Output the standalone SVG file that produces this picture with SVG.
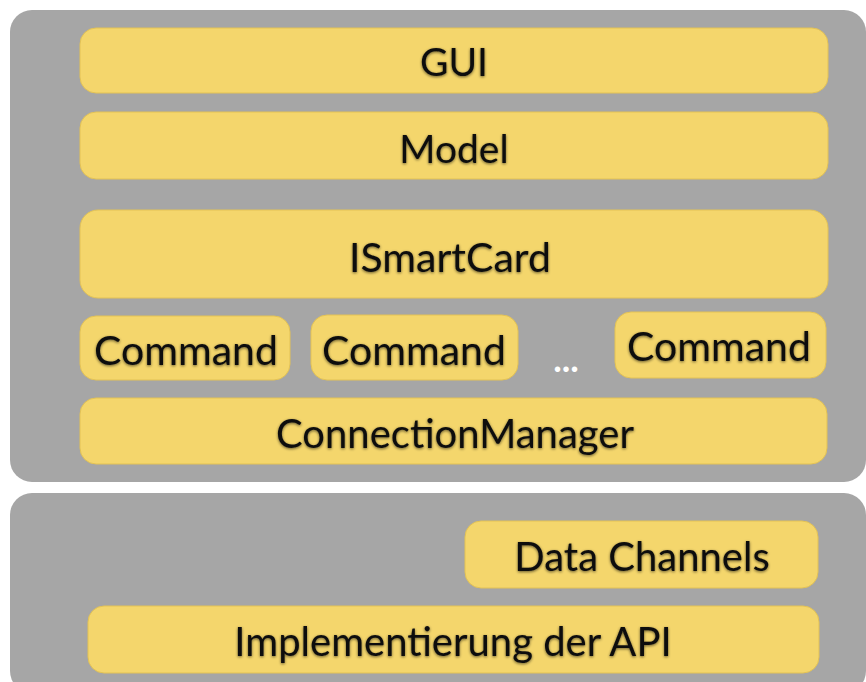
<svg xmlns="http://www.w3.org/2000/svg" width="866" height="682" viewBox="0 0 866 682">
<defs>
<style>
.panel{fill:#a6a6a6;}
.bar{fill:#f4d66c;stroke:#e3c255;stroke-width:1;}
.t{font-family:Lato,"Liberation Sans",sans-serif;fill:#111;text-anchor:middle;dominant-baseline:central;}
</style>
<filter id="sh" x="-10%" y="-30%" width="120%" height="160%">
<feGaussianBlur in="SourceAlpha" stdDeviation="1.5"/>
<feOffset dx="0" dy="1" result="b"/>
<feComponentTransfer><feFuncA type="linear" slope="0.6"/></feComponentTransfer>
<feMerge><feMergeNode/><feMergeNode in="SourceGraphic"/></feMerge>
</filter>
</defs>
<rect width="866" height="682" fill="#ffffff"/>
<rect class="panel" x="10" y="10" width="856" height="472" rx="22"/>
<rect class="panel" x="10" y="493" width="856" height="200" rx="22"/>
<g id="gui"><rect class="bar" x="80" y="28" width="748" height="65" rx="16"/><text class="t" x="454" y="61" font-size="39" filter="url(#sh)">GUI</text></g>
<g id="model"><rect class="bar" x="80" y="112" width="748" height="67" rx="16"/><text class="t" x="454" y="148" font-size="39" filter="url(#sh)">Model</text></g>
<g id="ismartcard"><rect class="bar" x="80" y="210" width="748" height="88" rx="18"/><text class="t" x="450" y="256" font-size="41" filter="url(#sh)">ISmartCard</text></g>
<g id="command1"><rect class="bar" x="80" y="316" width="210" height="64" rx="16"/><text class="t" x="186" y="349" font-size="41" filter="url(#sh)">Command</text></g>
<g id="command2"><rect class="bar" x="311" y="315" width="207" height="65" rx="16"/><text class="t" x="414" y="349" font-size="41" filter="url(#sh)">Command</text></g>
<text class="t" x="566" y="358" font-size="36" font-weight="bold" style="fill:#ffffff">...</text>
<g id="command3"><rect class="bar" x="615" y="312" width="211" height="66" rx="16"/><text class="t" x="719" y="345" font-size="41" filter="url(#sh)">Command</text></g>
<g id="connectionmanager"><rect class="bar" x="80" y="398" width="747" height="66" rx="16"/><text class="t" x="455" y="433" font-size="40" filter="url(#sh)">ConnectionManager</text></g>
<g id="datachannels"><rect class="bar" x="465" y="521" width="353" height="67" rx="16"/><text class="t" x="642" y="556" font-size="40" filter="url(#sh)">Data Channels</text></g>
<g id="implementierung"><rect class="bar" x="88" y="606" width="731" height="67" rx="16"/><text class="t" x="453" y="641" font-size="40" filter="url(#sh)">Implementierung der API</text></g>
<g id="connectors"/>
</svg>
